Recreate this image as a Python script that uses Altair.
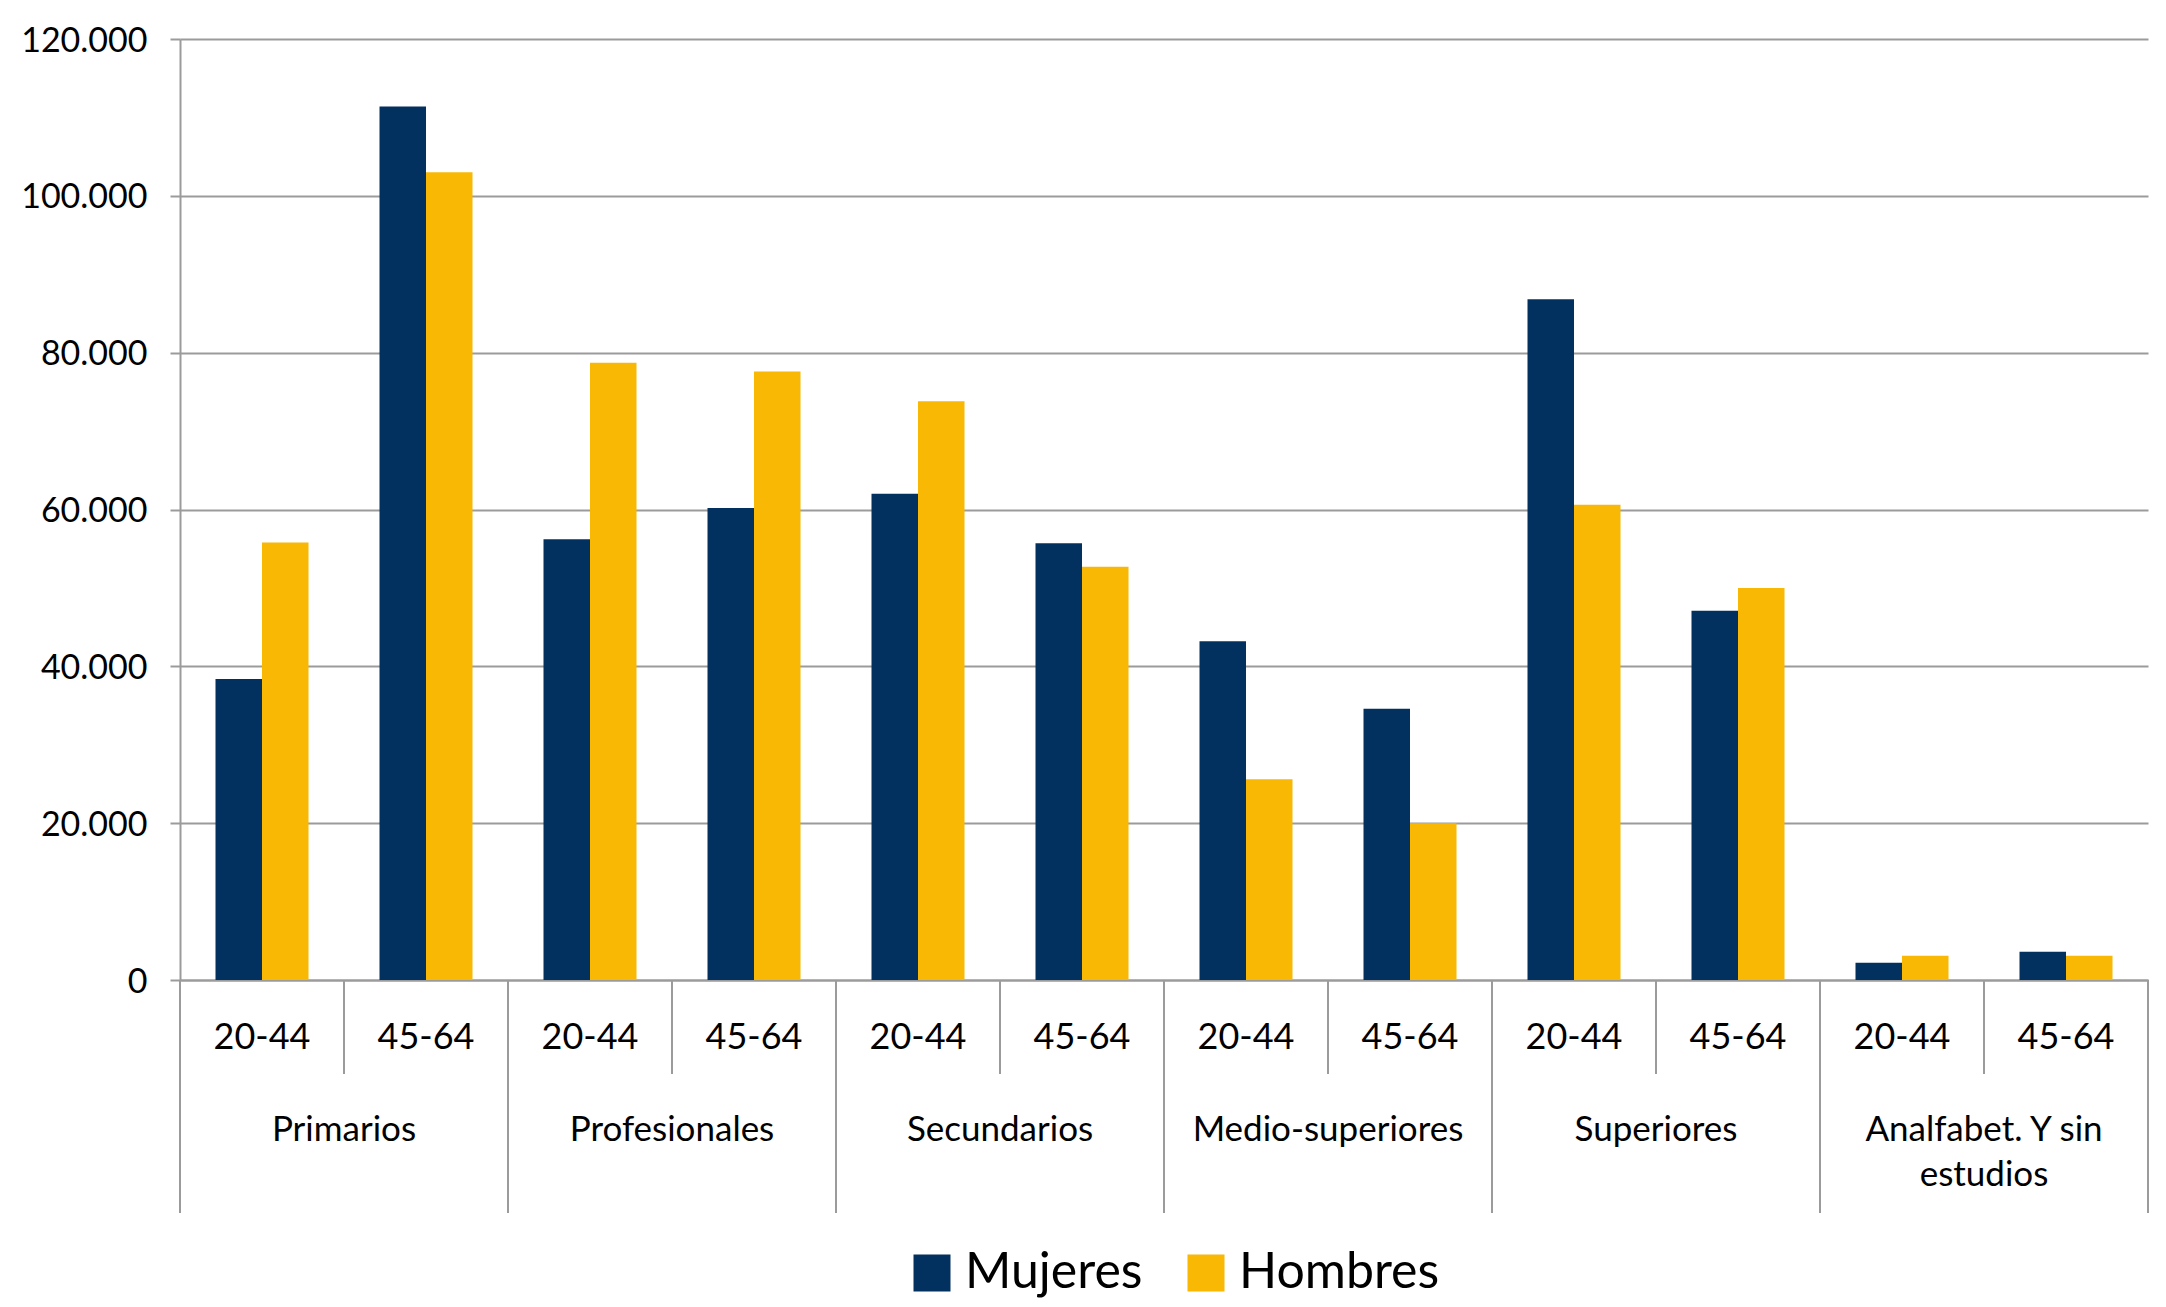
import altair as alt
import pandas as pd

# ---- data ----
educacion = ["Primarios", "Profesionales", "Secundarios", "Medio-superiores",
             "Superiores", "Analfabet. Y sin\nestudios"]
edades = ["20-44", "45-64"]
sexos = ["Mujeres", "Hombres"]
mujeres = [38400, 111400, 56200, 60200, 62000, 55700, 43200, 34600, 86800, 47100, 2200, 3600]
hombres = [55800, 103000, 78700, 77600, 73800, 52700, 25600, 20000, 60600, 50000, 3100, 3100]
y_ticks = [0, 20000, 40000, 60000, 80000, 100000, 120000]
colores = ["#03315f", "#f8b804"]

GRAY = "#9b9b9b"
FONT = "Lato"
W, H = 1968, 941

keys = [f"{i}|{a}" for i in range(len(educacion)) for a in edades]

rows = []
for j, k in enumerate(keys):
    rows.append({"key": k, "sexo": sexos[0], "valor": mujeres[j]})
    rows.append({"key": k, "sexo": sexos[1], "valor": hombres[j]})
df_bars = pd.DataFrame(rows)

df_short = pd.DataFrame({"key": [f"{i}|{edades[1]}" for i in range(len(educacion))]})
df_long = pd.DataFrame({"key": [f"{i}|{edades[0]}" for i in range(len(educacion))]})
df_end = pd.DataFrame({"key": [keys[-1]]})
df_cat = pd.DataFrame({"key": [f"{i}|{edades[1]}" for i in range(len(educacion))],
                       "edu": educacion})

xscale = alt.Scale(domain=keys, paddingInner=0, paddingOuter=0)

bars = alt.Chart(df_bars).mark_bar().encode(
    x=alt.X("key:N", scale=xscale, sort=keys,
            axis=alt.Axis(title=None, labelExpr="split(datum.label, '|')[1]",
                          labelAngle=0, labelFont=FONT, labelFontSize=36,
                          labelColor="black", labelPadding=40, ticks=False,
                          labelOverlap=False, labelLimit=300,
                          domainColor=GRAY, domainWidth=2, grid=False)),
    xOffset=alt.XOffset("sexo:N", sort=sexos,
                        scale=alt.Scale(domain=sexos, paddingInner=0, paddingOuter=0.7634)),
    y=alt.Y("valor:Q", scale=alt.Scale(domain=[0, 120000], nice=False),
            axis=alt.Axis(title=None, values=y_ticks,
                          labelExpr="replace(format(datum.value, ',d'), ',', '.')",
                          labelFont=FONT, labelFontSize=34, labelColor="black",
                          labelPadding=23, labelOffset=2,
                          tickSize=10, tickColor=GRAY, tickWidth=2,
                          domainColor=GRAY, domainWidth=2,
                          grid=True, gridColor=GRAY, gridWidth=2)),
    color=alt.Color("sexo:N", sort=sexos,
                    scale=alt.Scale(domain=sexos, range=colores),
                    legend=alt.Legend(title=None, orient="none", direction="horizontal",
                                      legendX=727, legendY=1209,
                                      symbolType="square", symbolSize=1369,
                                      symbolStrokeWidth=0, symbolOpacity=1,
                                      labelFont=FONT, labelFontSize=50,
                                      labelLimit=500,
                                      labelColor="black", labelOffset=8,
                                      columnPadding=38, padding=0)),
)

short_rules = alt.Chart(df_short).mark_rule(color=GRAY, strokeWidth=2).encode(
    x=alt.X("key:N", scale=xscale, bandPosition=0),
    y=alt.value(H), y2=alt.value(H + 94),
)

long_rules = alt.Chart(df_long).mark_rule(color=GRAY, strokeWidth=2).encode(
    x=alt.X("key:N", scale=xscale, bandPosition=0),
    y=alt.value(H), y2=alt.value(H + 233),
)

end_rule = alt.Chart(df_end).mark_rule(color=GRAY, strokeWidth=2).encode(
    x=alt.X("key:N", scale=xscale, bandPosition=1),
    y=alt.value(H), y2=alt.value(H + 233),
)

cat_text = alt.Chart(df_cat).mark_text(
    font=FONT, fontSize=35, color="black", align="center",
    baseline="alphabetic", lineBreak="\n", lineHeight=45,
).encode(
    x=alt.X("key:N", scale=xscale, bandPosition=0),
    y=alt.value(H + 161),
    text="edu:N",
)

chart = alt.layer(bars, short_rules, long_rules, end_rule, cat_text).properties(
    width=W, height=H,
    autosize=alt.AutoSizeParams(type="none"),
    padding={"left": 172, "top": 31, "right": 10, "bottom": 322},
).configure_view(stroke=None)

chart.save("out.html", embed_options={"renderer": "svg", "actions": False})
